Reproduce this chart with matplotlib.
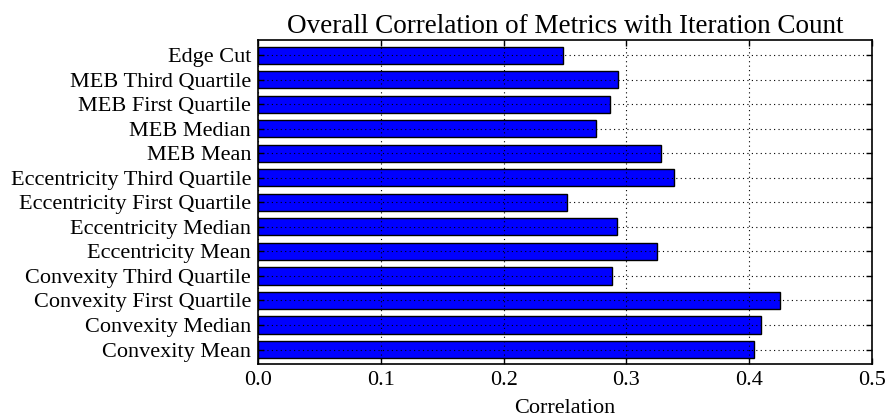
import matplotlib
matplotlib.use("Agg")
import matplotlib.pyplot as plt

# metric names, bottom to top
metrics = [
    "Convexity Mean",
    "Convexity Median",
    "Convexity First Quartile",
    "Convexity Third Quartile",
    "Eccentricity Mean",
    "Eccentricity Median",
    "Eccentricity First Quartile",
    "Eccentricity Third Quartile",
    "MEB Mean",
    "MEB Median",
    "MEB First Quartile",
    "MEB Third Quartile",
    "Edge Cut",
]
correlations = [
    0.404, 0.410, 0.425, 0.288,
    0.325, 0.292, 0.252, 0.339,
    0.328, 0.275, 0.287, 0.293,
    0.248,
]
x_ticks = [0.0, 0.1, 0.2, 0.3, 0.4, 0.5]

plt.rcParams["font.family"] = ["Liberation Serif", "DejaVu Serif"]

fig = plt.figure(figsize=(8.89, 4.16), dpi=100)
ax = fig.add_axes([0.2904, 0.1243, 0.6902, 0.7803])

pos = list(range(len(metrics)))
ax.barh(pos, correlations, height=0.7, color="#0000ff", edgecolor="black",
        linewidth=1.0, zorder=2)

ax.set_yticks(pos)
ax.set_yticklabels(metrics, fontsize=16)
ax.set_xticks(x_ticks)
ax.set_xticklabels(["%.1f" % t for t in x_ticks], fontsize=16)
ax.set_xlim(0, 0.5)
ax.set_ylim(-0.6, 12.63)

# dotted grid drawn on top of the bars
ax.set_axisbelow(False)
ax.grid(True, color="black", linestyle=(0, (1, 3)), linewidth=0.8)
ax.tick_params(direction="in", top=True, right=True, length=4, width=1,
               pad=5)
for s in ax.spines.values():
    s.set_linewidth(1.2)

ax.set_xlabel("Correlation", fontsize=16, labelpad=6)
ax.set_title("Overall Correlation of Metrics with Iteration Count",
             fontsize=19.5, pad=5)

fig.savefig("out.png", dpi=100)
